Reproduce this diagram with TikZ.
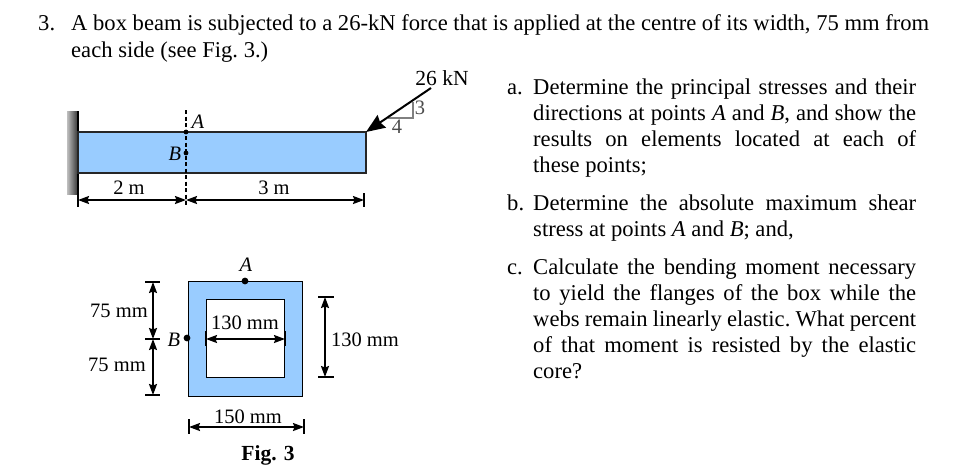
\documentclass[tikz,border=0pt]{standalone}
\usepackage{fontspec}
\setmainfont{Liberation Serif}
\usetikzlibrary{arrows.meta}
\definecolor{beamblue}{HTML}{99CCFF}
\definecolor{slopegray}{HTML}{808080}
\tikzset{
  label/.style={font=\fontsize{20.5}{26}\selectfont, inner sep=0pt},
  bodytext/.style={font=\fontsize{22.6}{26}\selectfont\frenchspacing, inner sep=0pt},
  para/.style={bodytext, anchor=north west, text width=383pt, align=justify},
  dimline/.style={{Stealth[length=11pt,width=8pt,inset=1.5pt]}-{Stealth[length=11pt,width=8pt,inset=1.5pt]}, line width=1.6pt},
  dimtick/.style={line width=1.2pt},
}
\begin{document}
\begin{tikzpicture}[x=1pt,y=-1pt]

\useasboundingbox (0,0) rectangle (976,475);

\coordinate (w1) at (67,111);
\coordinate (w2) at (78,194);
\coordinate (b1) at (78,132);
\coordinate (b2) at (366,173);
\coordinate (sA) at (186,132);
\coordinate (sB) at (186,153);
\coordinate (cut1) at (186,110);
\coordinate (cut2) at (186,207);
\coordinate (d1) at (78,200);
\coordinate (d2) at (186,200);
\coordinate (d3) at (364,200);
\coordinate (tip) at (366,132);
\coordinate (tail) at (431,88);
\coordinate (t1) at (388,118);
\coordinate (t2) at (413,118);
\coordinate (t3) at (413,102);

\shade[left color=gray!50, right color=black!80] (w1) rectangle (w2);
\draw[line width=1.2pt] (78,111) -- (78,194);
\filldraw[fill=beamblue, draw=black!85, line width=1.4pt] (b1) rectangle (b2);
\draw[dash pattern=on 4pt off 2.5pt, line width=1.4pt] (cut1) -- (cut2);
\fill (sA) circle (2.4pt);
\fill (sB) circle (2.4pt);

\draw[dimline] (d1) -- (d2);
\draw[dimline] (d2) -- (d3);
\draw[dimtick] (78,193) -- (78,207);
\draw[dimtick] (364,193) -- (364,207);

\draw[slopegray, line width=2.6pt] (t1) -- (t2) -- (t3);
\draw[-{Stealth[length=19pt,width=15pt,inset=2pt]}, line width=2pt] (tail) -- (tip);

\node[label, font=\fontsize{21.5}{26}\selectfont] (force) at (442,78) {26 kN};
\node[label, text=black!70] (rise) at (420,108) {3};
\node[label, text=black!70] (run) at (397,127) {4};
\node[label] (lA) at (198,122) {\textit{A}};
\node[label] (lB) at (175,154) {\textit{B}};
\node[label] (l2m) at (129,188) {2 m};
\node[label] (l3m) at (274,188) {3 m};

\coordinate (o1) at (188,281);
\coordinate (o2) at (302,396);
\coordinate (i1) at (206,299);
\coordinate (i2) at (284,377);
\coordinate (pA) at (245,281);
\coordinate (pB) at (187,338);
\coordinate (h1) at (153,282);
\coordinate (h2) at (153,339);
\coordinate (h3) at (153,395);
\coordinate (r1) at (325,297);
\coordinate (r2) at (325,377);
\coordinate (w3) at (206,339);
\coordinate (w4) at (285,339);
\coordinate (w5) at (189,427);
\coordinate (w6) at (304,427);

\filldraw[fill=beamblue, draw=black, line width=.8pt] (o1) rectangle (o2);
\filldraw[fill=white, draw=black, line width=.9pt] (i1) rectangle (i2);
\fill (pA) circle (3.4pt);
\fill (pB) circle (3.4pt);

\draw[dimline] (h1) -- (h2);
\draw[dimline] (h2) -- (h3);
\draw[dimtick] (145,282) -- (160,282);
\draw[dimtick] (145,339) -- (160,339);
\draw[dimtick] (145,395) -- (160,395);

\draw[dimline] (r1) -- (r2);
\draw[dimtick] (318,297) -- (334,297);
\draw[dimtick] (318,377) -- (334,377);

\draw[dimline] (w3) -- (w4);
\draw[dimtick] (206,331) -- (206,346);
\draw[dimtick] (285,331) -- (285,346);

\draw[dimline] (w5) -- (w6);
\draw[dimtick] (189,419) -- (189,434);
\draw[dimtick] (304,419) -- (304,434);

\node[label] (sA2) at (246,265) {\textit{A}};
\node[label] (sB2) at (174,340) {\textit{B}};
\node[label] (m75a) at (119,311) {75 mm};
\node[label] (m75b) at (117,365) {75 mm};
\node[label] (m130a) at (245,323) {130 mm};
\node[label] (m130b) at (365,340) {130 mm};
\node[label] (m150) at (248,417) {150 mm};
\node[label, font=\fontsize{21.5}{26}\selectfont\bfseries] (fig) at (268,455) {Fig. 3};

\node[bodytext, anchor=base west] (qnum) at (38,30) {3.};
\node[bodytext, anchor=base west] (q1) at (71,30) {A box beam is subjected to a 26-kN force that is applied at the centre of its width, 75 mm from};
\node[bodytext, anchor=base west] (q2) at (71,57) {each side (see Fig. 3.)};

\node[bodytext, anchor=base west] (na) at (507,94) {a.};
\node[para] (pa) at (533,79) {Determine the principal stresses and their\linebreak directions at points \textit{A} and \textit{B}, and show the\linebreak results on elements located at each of\linebreak these points;};
\node[bodytext, anchor=base west] (nb) at (507,210) {b.};
\node[para] (pb) at (533,195) {Determine the absolute maximum shear\linebreak stress at points \textit{A} and \textit{B}; and,};
\node[bodytext, anchor=base west] (nc) at (507,274) {c.};
\node[para] (pc) at (533,259) {Calculate the bending moment necessary\linebreak to yield the flanges of the box while the\linebreak webs remain linearly elastic. What percent\linebreak of that moment is resisted by the elastic\linebreak core?};
\end{tikzpicture}
\end{document}
